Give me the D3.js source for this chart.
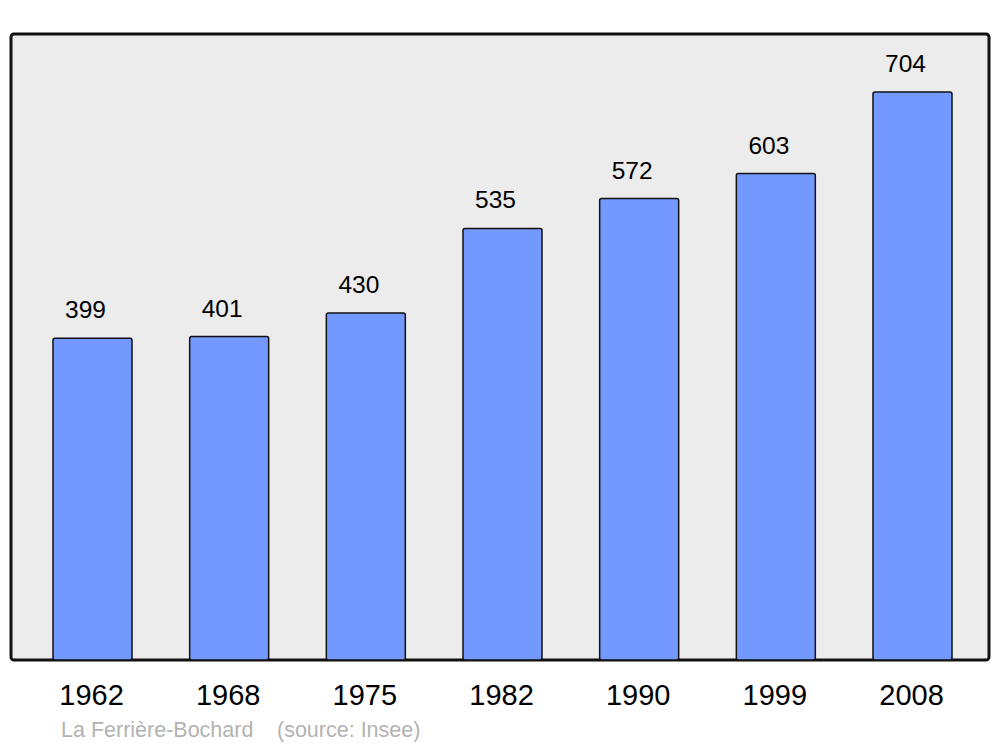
<!DOCTYPE html>
<html>
<head>
<meta charset="utf-8">
<script src="https://cdn.jsdelivr.net/npm/d3@7"></script>
<style>
  body { margin: 0; background: #fff; }
  text { font-family: "Liberation Sans", Arial, sans-serif; }
</style>
</head>
<body>
<div class="container"></div>
<script>
// data
var years = ["1962", "1968", "1975", "1982", "1990", "1999", "2008"];
var population = [399, 401, 430, 535, 572, 603, 704];
var commune = "La Ferrière-Bochard";
var source = "(source: Insee)";

var svgWidth = 1000;
var svgHeight = 747;

var svg = d3.select(".container")
  .append("svg")
  .attr("width", svgWidth)
  .attr("height", svgHeight);

// plot frame
var frame = { left: 11, top: 34, right: 989, bottom: 660 };

svg.append("rect")
  .attr("x", frame.left)
  .attr("y", frame.top)
  .attr("width", frame.right - frame.left)
  .attr("height", frame.bottom - frame.top)
  .attr("rx", 3)
  .attr("fill", "#ececec")
  .attr("stroke", "#111")
  .attr("stroke-width", 3);

// scales
var xScale = d3.scaleBand()
  .domain(years)
  .range([53, 952])
  .paddingInner(0.422)
  .paddingOuter(0);

var yScale = d3.scaleLinear()
  .domain([0, 776])
  .range([frame.bottom, frame.top]);

var data = years.map((y, i) => ({ year: y, value: population[i] }));

// bars
svg.selectAll("rect.bar")
  .data(data)
  .enter()
  .append("rect")
  .attr("class", "bar")
  .attr("x", d => xScale(d.year))
  .attr("y", d => yScale(d.value))
  .attr("width", xScale.bandwidth())
  .attr("height", d => yScale(0) - yScale(d.value))
  .attr("rx", 2)
  .attr("fill", "#7399ff")
  .attr("stroke", "#111")
  .attr("stroke-width", 1.5);

// value labels
svg.selectAll("text.value")
  .data(data)
  .enter()
  .append("text")
  .attr("class", "value")
  .attr("x", d => xScale(d.year) + xScale.bandwidth() / 2 - 7)
  .attr("y", d => yScale(d.value) - 20)
  .attr("text-anchor", "middle")
  .attr("font-size", 24.5)
  .attr("fill", "#000")
  .text(d => d.value);

// x axis labels
var xAxis = d3.axisBottom(xScale).tickSize(0).tickPadding(0);
var axisG = svg.append("g")
  .attr("transform", `translate(-1, 684)`)
  .call(xAxis);
axisG.select(".domain").remove();
axisG.selectAll("text")
  .attr("font-size", 29)
  .attr("font-family", "Liberation Sans, Arial, sans-serif")
  .attr("fill", "#000");

// footer
svg.append("text")
  .attr("x", 61)
  .attr("y", 737)
  .attr("font-size", 21.5)
  .attr("fill", "#b3b3b3")
  .text(commune);

svg.append("text")
  .attr("x", 277)
  .attr("y", 737)
  .attr("font-size", 21.5)
  .attr("fill", "#b3b3b3")
  .text(source);
</script>
</body>
</html>
